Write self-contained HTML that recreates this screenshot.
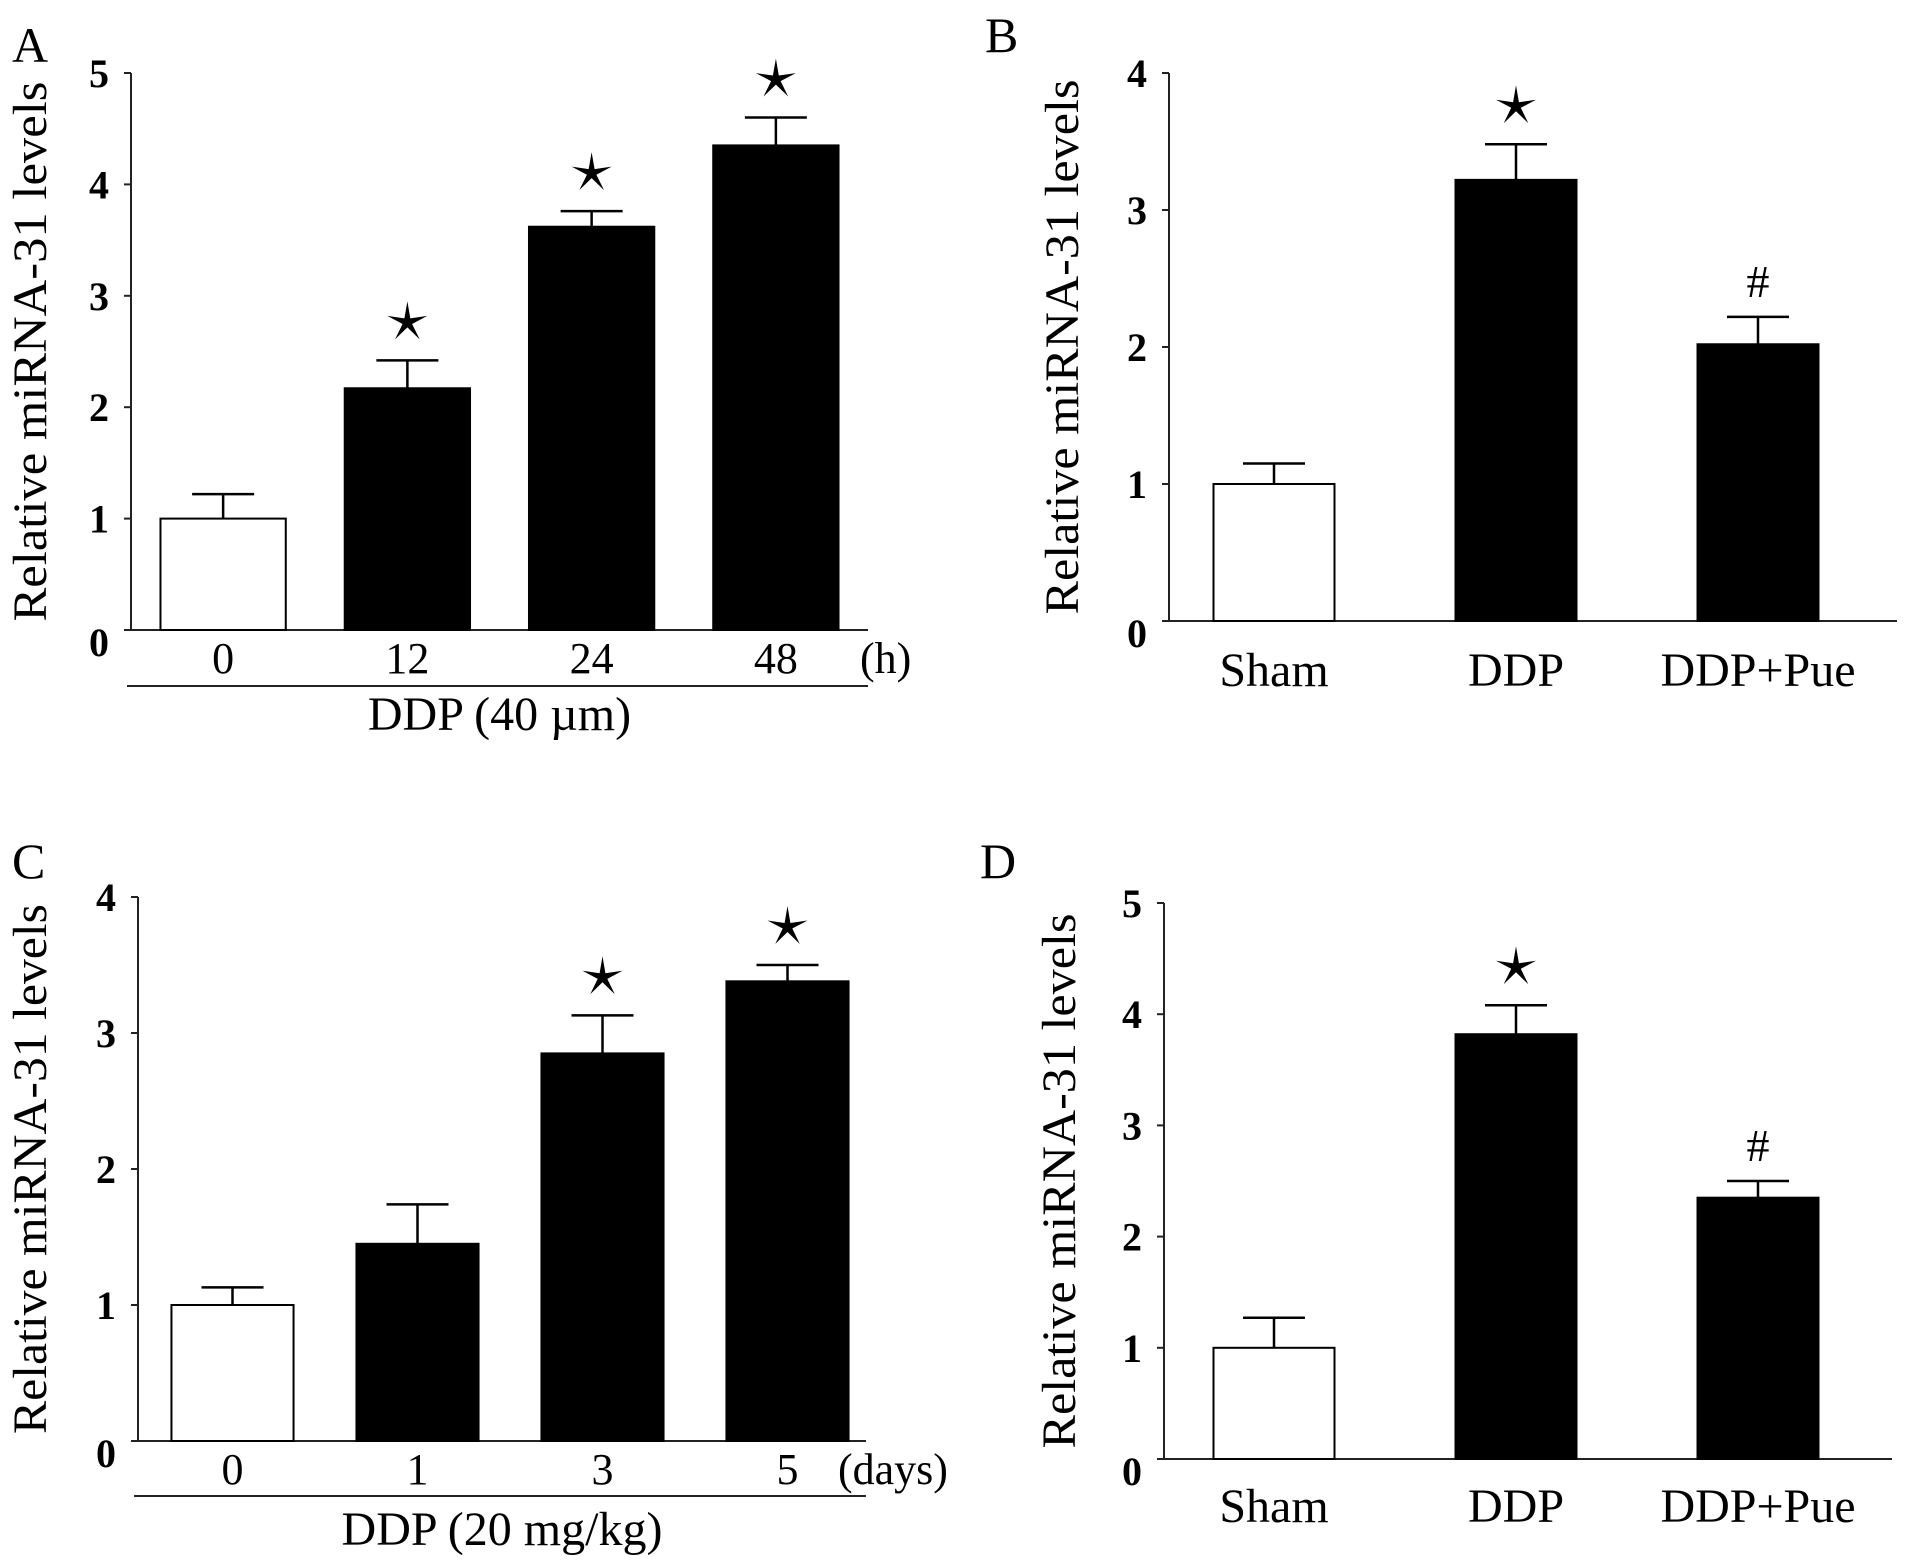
<!DOCTYPE html>
<html><head><meta charset="utf-8"><style>
html,body{margin:0;padding:0;background:#fff;}
svg{display:block;}
text{font-family:"Liberation Serif",serif;fill:#000;}
</style></head><body>
<svg id="fig" width="1913" height="1563" viewBox="0 0 1913 1563"></svg>
<script>
// Panel A data
const catsA = ["0","12","24","48"];
const valsA = [1.0, 2.17, 3.62, 4.35];
const errA = [1.22, 2.42, 3.76, 4.6];
const marksA = ["", "star", "star", "star"];
const ticksA = [0,1,2,3,4,5];
// Panel B data
const catsB = ["Sham","DDP","DDP+Pue"];
const valsB = [1.0, 3.22, 2.02];
const errB = [1.15, 3.48, 2.22];
const marksB = ["", "star", "hash"];
const ticksB = [0,1,2,3,4];
// Panel C data
const catsC = ["0","1","3","5"];
const valsC = [1.0, 1.45, 2.85, 3.38];
const errC = [1.13, 1.74, 3.13, 3.5];
const marksC = ["", "", "star", "star"];
const ticksC = [0,1,2,3,4];
// Panel D data
const catsD = ["Sham","DDP","DDP+Pue"];
const valsD = [1.0, 3.82, 2.35];
const errD = [1.27, 4.08, 2.5];
const marksD = ["", "star", "hash"];
const ticksD = [0,1,2,3,4,5];

const NS = "http://www.w3.org/2000/svg";
const svg = document.getElementById("fig");
function mk(tag, attrs, parent, txt){
  const e = document.createElementNS(NS, tag);
  for (const k in attrs) e.setAttribute(k, attrs[k]);
  if (txt !== undefined) e.textContent = txt;
  (parent||svg).appendChild(e);
  return e;
}

function panel(cfg){
  const g = mk("g", {});
  
  
  const maxV = cfg.ticks[cfg.ticks.length-1];
  const y = v => cfg.y0 - (cfg.y0 - cfg.yTop) * v / maxV;
  const n = cfg.cats.length;
  const step = (cfg.barsEnd - cfg.barsStart) / n;
  const bw = step * cfg.barFrac;
  const cx = i => cfg.barsStart + step * (i + 0.5);

  const letter = mk("text", {x: cfg.lx, y: cfg.ly, "font-size": 50}, g, cfg.letter);
  
  

  const yax = mk("line", {x1: cfg.ax, y1: cfg.yTop, x2: cfg.ax, y2: cfg.y0, stroke: "#222", "stroke-width": 2}, g);
  
  
  const xax = mk("line", {x1: cfg.ax - 4, y1: cfg.y0, x2: cfg.axEnd, y2: cfg.y0, stroke: "#222", "stroke-width": 2}, g);
  
  

  cfg.ticks.forEach(t => {
    const tk = mk("line", {x1: cfg.ax - 7, y1: y(t), x2: cfg.ax, y2: y(t), stroke: "#222", "stroke-width": 2}, g);
    
    
    const tl = mk("text", {x: cfg.ax - 32, y: y(t) + 14 + (t === 0 ? 12 : 0), "font-size": 40, "font-weight": "bold", "text-anchor": "middle"}, g, String(t));
    
    
  });

  const yc = (cfg.yTop + cfg.y0) / 2;
  const yt = mk("text", {x: 0, y: 0, "font-size": 48, "text-anchor": "middle", textLength: cfg.ylabLen, lengthAdjust: "spacingAndGlyphs", transform: `translate(${cfg.ylx},${yc}) rotate(-90)`}, g, "Relative miRNA-31 levels");
  
  

  cfg.vals.forEach((v, i) => {
    const x = cx(i);
    const top = y(v);
    const bar = mk("rect", {x: x - bw/2, y: top, width: bw, height: cfg.y0 - top, fill: i === 0 ? "#fff" : "#000", stroke: "#000", "stroke-width": 2}, g);
    
    
    const et = y(cfg.errs[i]);
    const eb = mk("path", {d: `M${x},${top} V${et} M${x - 31},${et} H${x + 31}`, stroke: "#000", "stroke-width": 2.5, fill: "none"}, g);
    
    
    if (cfg.marks[i] === "star") {
      const r = 21, ri = 5, sx = x, sy = et - 38;
      let pts = [];
      for (let k = 0; k < 10; k++) {
        const a = -Math.PI/2 + k * Math.PI/5;
        const rr = k % 2 ? ri : r;
        pts.push((sx + rr*Math.cos(a)).toFixed(1) + "," + (sy + rr*Math.sin(a)).toFixed(1));
      }
      const st = mk("polygon", {points: pts.join(" "), fill: "#000"}, g);
      
      
    } else if (cfg.marks[i] === "hash") {
      const h = mk("text", {x: x, y: et - 20, "font-size": 46, "text-anchor": "middle"}, g, "#");
      
      
    }
    const cl = mk("text", {x: x, y: cfg.catY, "font-size": cfg.catFs, "text-anchor": "middle"}, g, cfg.cats[i]);
    
    
  });

  if (cfg.unit) {
    const u = mk("text", {x: cfg.unitX, y: cfg.catY, "font-size": 44}, g, cfg.unit);
    
    
    const ln = mk("line", {x1: cfg.ax - 4, y1: cfg.lineY, x2: cfg.axEnd, y2: cfg.lineY, stroke: "#222", "stroke-width": 2}, g);
    
    
    const gt = mk("text", {x: (cfg.ax + cfg.axEnd)/2, y: cfg.groupY, "font-size": 48, "text-anchor": "middle"}, g, cfg.group);
    
    
  }
}

panel({name:"panel-a", letter:"A", lx:12, ly:62, ax:131, axEnd:868, yTop:73, y0:630,
  barsStart:131, barsEnd:868, barFrac:0.68, cats:catsA, vals:valsA, errs:errA, marks:marksA, ticks:ticksA,
  ylx:46, ylabLen:540, catY:673, catFs:44, unit:"(h)", unitX:860, lineY:686, group:"DDP (40 µm)", groupY:730});

panel({name:"panel-b", letter:"B", lx:985, ly:52, ax:1169, axEnd:1897, yTop:73, y0:621,
  barsStart:1153, barsEnd:1879, barFrac:0.5, cats:catsB, vals:valsB, errs:errB, marks:marksB, ticks:ticksB,
  ylx:1078, ylabLen:535, catY:686, catFs:48});

panel({name:"panel-c", letter:"C", lx:12, ly:878, ax:138, axEnd:866, yTop:897, y0:1441,
  barsStart:140, barsEnd:880, barFrac:0.66, cats:catsC, vals:valsC, errs:errC, marks:marksC, ticks:ticksC,
  ylx:46, ylabLen:530, catY:1484, catFs:44, unit:"(days)", unitX:838, lineY:1496, group:"DDP (20 mg/kg)", groupY:1545});

panel({name:"panel-d", letter:"D", lx:980, ly:878, ax:1164, axEnd:1892, yTop:903, y0:1459,
  barsStart:1153, barsEnd:1879, barFrac:0.5, cats:catsD, vals:valsD, errs:errD, marks:marksD, ticks:ticksD,
  ylx:1075, ylabLen:535, catY:1522, catFs:48});
</script>
</body></html>
